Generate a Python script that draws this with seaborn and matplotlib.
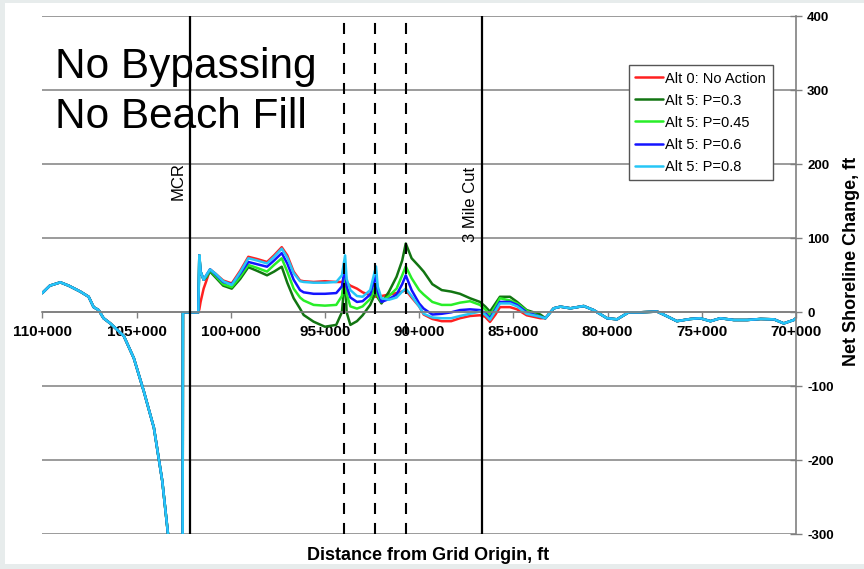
import matplotlib
matplotlib.use("Agg")
import matplotlib.pyplot as plt
from matplotlib.patches import Rectangle
import pandas as pd
import seaborn as sns

# West of the river mouth every alternative gives the same shoreline change
west_station = [110000, 109600, 109043, 108600, 107983, 107540, 107277, 107010,
                106750, 106390, 105675, 105142, 104610, 104078, 103633, 103314,
                103000, 102560, 102537]
west_change = [26, 36, 40.5, 36, 28, 21, 7, 3, -8, -15, -32, -62, -107, -156,
               -228, -303, -420, -520, 0]

# Reach where the alternatives differ
mid_station = [101720, 101667, 101600, 101438, 101300, 101098, 100800, 100400,
               99947, 99500, 99066, 98600, 98073, 97700, 97293, 97000, 96660,
               96322, 96130, 95600, 95000, 94400, 94100, 93930, 93850, 93650,
               93300, 93000, 92600, 92290, 92200, 92000, 91600, 91200, 90900,
               90711, 90400, 90000, 89760, 89300, 88800, 88300, 87835, 87300,
               86773, 86500, 86242, 85950, 85712, 85180, 84800, 84295, 83570]

alt0_no_action = [0, 4, 14, 32, 42, 58, 52, 43, 39, 56, 75, 72, 68, 77, 88, 77,
                  55, 43, 42, 41, 42, 41, 41, 41, 40, 36, 32, 27, 23, 21, 21, 22,
                  24, 26, 28, 30, 20, 8, -3, -9, -12, -12, -8, -5, -4, -6, -13,
                  -3, 7, 7, 4, -4, -8]
alt5_p030 = [0, 77, 55, 44, 47, 55, 47, 36, 32, 45, 61, 56, 50, 55, 61.6, 40,
             19, 5, -3.6, -12.7, -19.5, -17, 0, 50, 0, -17, -12, -4, 10, 28, 20,
             12, 28, 48, 70, 93, 73, 62, 55, 38, 30, 28, 25, 19, 14, 8, 1, 12,
             21, 21, 14, 3, -3]
alt5_p045 = [0, 77, 55, 44, 48, 57, 49, 38, 34, 48, 64, 60, 55, 64, 73, 55, 32,
             20, 16, 10, 9, 10, 22, 57, 25, 8, 5, 8, 18, 37, 22, 14, 22, 32, 50,
             62, 46, 30, 24, 14, 10, 10, 13, 15, 10, 4, -4, 8, 19, 16, 12, 2, -6]
alt5_p060 = [0, 77, 55, 44, 50, 58, 51, 41, 38, 52, 68, 65, 61.6, 70, 80, 66, 44,
             30, 27, 25, 25, 26, 35, 62, 35, 20, 14, 15, 24, 50, 28, 14, 18, 24,
             38, 50, 30, 12, 5, -3, -2, 0, 3, 4, 3, -1, -8, 4, 14, 14, 10, 0, -6]
alt5_p080 = [0, 77, 55, 44, 50, 58, 52, 42, 37, 54, 73, 70, 66, 75, 86, 74, 53,
             42, 41, 40, 40, 41, 50, 77, 45, 30, 22, 21, 30, 62, 35, 19, 17, 20,
             28, 32, 22, 8, -2, -7, -8, -8, -5, -2, 1, -3, -10, 2, 12, 12, 8, -2,
             -6]

# East of the 3 Mile Cut the alternatives converge again
east_station = [83300, 82860, 82500, 81970, 81270, 80740, 80030, 79500, 78880,
                78260, 77370, 76840, 76320, 75600, 75090, 74540, 74010, 73300,
                72590, 71880, 71170, 70650, 70120, 70000]
east_change = [-8, 5.4, 7.6, 5.4, 8.5, 3, -8, -9.5, 0, 0, 1, -5.4, -12, -9, -8,
               -12, -8, -10.4, -10.4, -9, -9.5, -15, -10.4, -8]

series_names = ["Alt 0: No Action", "Alt 5: P=0.3", "Alt 5: P=0.45",
                "Alt 5: P=0.6", "Alt 5: P=0.8"]
series_values = [alt0_no_action, alt5_p030, alt5_p045, alt5_p060, alt5_p080]
series_colors = ["#ff2020", "#127512", "#28ee28", "#1414ff", "#26c6f6"]

mcr_station = 102160
cut_station = 86677
dashed_stations = [93986, 92341, 90711]

x_ticks = list(range(70000, 110001, 5000))
y_ticks = list(range(-300, 401, 100))

frames = []
for name, vals in zip(series_names, series_values):
    frames.append(pd.DataFrame({
        "station": west_station + mid_station + east_station,
        "change": west_change + vals + east_change,
        "series": name,
    }))
df = pd.concat(frames, ignore_index=True)

sns.set_style("white")
plt.rcParams["font.family"] = ["Liberation Sans", "DejaVu Sans"]
plt.rcParams["text.color"] = "black"
plt.rcParams["axes.labelcolor"] = "black"
plt.rcParams["xtick.color"] = "black"
plt.rcParams["ytick.color"] = "black"

fig = plt.figure(figsize=(8.64, 5.69), dpi=100)
fig.patch.set_facecolor("#e7ecec")
fig.add_artist(Rectangle((5 / 864, 5 / 569), 1, (569 - 8) / 569,
                         transform=fig.transFigure, facecolor="white",
                         edgecolor="none", zorder=-10))

ax = fig.add_axes([0.04896, 0.06098, 0.87234, 0.91037])
ax.set_facecolor("white")

sns.lineplot(data=df, x="station", y="change", hue="series",
             hue_order=series_names, palette=series_colors,
             sort=False, estimator=None, linewidth=1.8, ax=ax, zorder=2)

ax.set_xlim(110000, 70000)
ax.set_ylim(-300, 400)

# Horizontal grid
ax.yaxis.grid(True, color="#8a8a8a", linewidth=1.2)
ax.xaxis.grid(False)

# Reference lines
for s in (mcr_station, cut_station):
    ax.axvline(s, color="black", linewidth=1.6, zorder=3)
for s in dashed_stations:
    ax.axvline(s, ymax=0.99, color="black", linewidth=1.5,
               linestyle=(0, (5.3, 4.3)), zorder=3)

ax.annotate("MCR", xy=(mcr_station, 152), xytext=(-3, 0),
            textcoords="offset points", rotation=90, ha="right", va="bottom",
            fontsize=12)
ax.annotate("3 Mile Cut", xy=(cut_station, 95), xytext=(-3, 0),
            textcoords="offset points", rotation=90, ha="right", va="bottom",
            fontsize=12)

ax.text(0.0168, 0.8803, "No Bypassing", transform=ax.transAxes,
        fontsize=30.5, ha="left", va="baseline")
ax.text(0.0168, 0.7838, "No Beach Fill", transform=ax.transAxes,
        fontsize=30.5, ha="left", va="baseline")

# Axes: x axis crosses at zero, y axis on the right
for side in ("left", "top"):
    ax.spines[side].set_visible(False)
ax.spines["bottom"].set_position(("data", 0))
ax.spines["bottom"].set_color("#808080")
ax.spines["bottom"].set_linewidth(1.2)
ax.spines["right"].set_color("#808080")
ax.spines["right"].set_linewidth(1.2)

ax.set_xticks(x_ticks)
ax.set_xticklabels([f"{v // 1000}+{v % 1000:03d}" for v in x_ticks],
                   fontweight="bold", fontsize=11)
ax.tick_params(axis="x", direction="out", length=4, width=1,
               color="#808080", pad=5, bottom=True)

ax.yaxis.tick_right()
ax.set_yticks(y_ticks)
ax.set_yticklabels([str(v) for v in y_ticks], fontweight="bold", fontsize=9.5)
ax.tick_params(axis="y", direction="inout", length=8, width=1,
               color="#808080", pad=4, right=True, left=False)

ax.set_xlabel("Distance from Grid Origin, ft", fontsize=13, fontweight="bold")
ax.xaxis.set_label_coords(0.5115, -0.040)
ax.xaxis.label.set_verticalalignment("center")

ax.yaxis.set_label_position("right")
ax.set_ylabel("Net Shoreline Change, ft", fontsize=13, fontweight="bold")
ax.yaxis.label.set_verticalalignment("center")
ax.yaxis.label.set_horizontalalignment("center")
ax.yaxis.set_label_coords(1.073, 0.5276)

sns.move_legend(ax, "upper right", bbox_to_anchor=(0.969, 0.906),
                borderaxespad=0, title=None, frameon=True, fancybox=False,
                framealpha=1, edgecolor="#555555", fontsize=10.5,
                handlelength=1.9, handletextpad=0.15, labelspacing=0.55,
                borderpad=0.45)
ax.get_legend().get_frame().set_linewidth(1.0)

fig.savefig("out.png", dpi=100)
